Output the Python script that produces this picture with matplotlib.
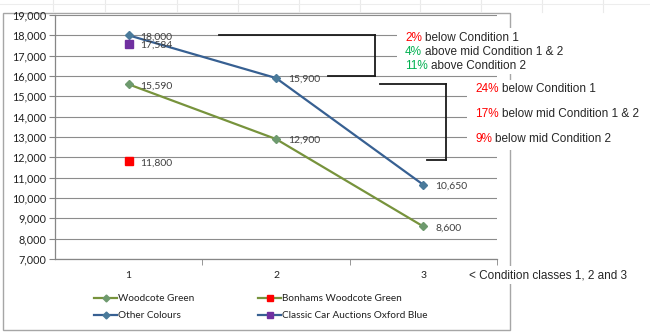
import matplotlib
matplotlib.use("Agg")
import matplotlib.pyplot as plt
from matplotlib.lines import Line2D
from matplotlib.patches import Rectangle

W, H = 650, 334

# condition classes and prices
classes = [1, 2, 3]
woodcote_green = [15590, 12900, 8600]
other_colours = [18000, 15900, 10650]
bonhams_green = [11800]
cca_oxford_blue = [17584]

y_ticks = list(range(7000, 19001, 1000))

notes_top = [("2%", "below Condition 1", "#FF0000"),
             ("4%", "above mid Condition 1 & 2", "#00B050"),
             ("11%", "above Condition 2", "#00B050")]
notes_bottom = [("24%", "below Condition 1", "#FF0000"),
                ("17%", "below mid Condition 1 & 2", "#FF0000"),
                ("9%", "below mid Condition 2", "#FF0000")]

GREEN = "#77933C"
BLUE = "#376092"
CHART_FONT = ["Lato", "DejaVu Sans"]
NOTE_FONT = ["Liberation Sans", "DejaVu Sans"]


def fx(px):
    return px / W


def fy(py):
    return 1 - py / H


fig = plt.figure(figsize=(W / 100, H / 100), dpi=100)
fig.patch.set_facecolor("white")

# faint worksheet cells behind the chart
for cx in [53, 105, 177, 238, 299, 360, 420, 481, 542, 603]:
    fig.add_artist(Line2D([fx(cx), fx(cx)], [fy(0), fy(12)], color="#EAEAEA", lw=0.8))
fig.add_artist(Line2D([0, 1], [fy(4), fy(4)], color="#EDEDED", lw=0.8))

# chart frame
fig.add_artist(Rectangle((fx(3), fy(330)), fx(510) - fx(3), fy(13) - fy(330),
                         transform=fig.transFigure, facecolor="white",
                         edgecolor="#A6A6A6", lw=1.0, zorder=0))

ax = fig.add_axes([fx(55), fy(259), fx(497) - fx(55), fy(15) - fy(259)])
ax.set_facecolor("none")

ax.plot(classes, woodcote_green, color=GREEN, lw=1.6, marker="D", ms=4,
        mfc="#6E9A6E", mec="#6E9A6E", zorder=3)
ax.plot(classes, other_colours, color=BLUE, lw=1.6, marker="D", ms=4,
        mfc="#4A7A9A", mec="#4A7A9A", zorder=3)
ax.plot(classes[:1], bonhams_green, ls="none", marker="s", ms=6,
        mfc="#FF0000", mec="#FF0000", zorder=3)
ax.plot(classes[:1], cca_oxford_blue, ls="none", marker="s", ms=6,
        mfc="#7030A0", mec="#7030A0", zorder=3)

# value labels to the right of each point
series = [(classes, woodcote_green), (classes, other_colours),
          (classes[:1], bonhams_green), (classes[:1], cca_oxford_blue)]
for xs, ys in series:
    for x, y in zip(xs, ys):
        ax.annotate(f"{y:,}", (x, y), xytext=(8.5, -1), textcoords="offset points",
                    ha="left", va="center", fontsize=7.5, color="#404040",
                    family=CHART_FONT, zorder=4)

ax.set_xlim(0.5, 3.5)
ax.set_ylim(7000, 19000)
ax.set_yticks(y_ticks)
ax.set_yticklabels([f"{v:,}" for v in y_ticks], family=CHART_FONT, fontsize=7.8, color="#202020")
ax.set_xticks(classes)
ax.set_xticklabels([str(c) for c in classes], family=CHART_FONT, fontsize=7.5, color="#202020")
ax.set_xticks([1.5, 2.5, 3.5], minor=True)
ax.tick_params(axis="x", which="major", length=0, pad=9)
ax.tick_params(axis="x", which="minor", length=4, color="#868686")
ax.tick_params(axis="y", length=4, color="#868686", pad=2)
ax.grid(axis="y", color="#8C8C8C", lw=0.8)
ax.set_axisbelow(True)
for side in ["top", "right"]:
    ax.spines[side].set_visible(False)
for side in ["left", "bottom"]:
    ax.spines[side].set_color("#868686")
    ax.spines[side].set_linewidth(0.9)

# legend fills column by column
handles = [
    Line2D([], [], color=GREEN, lw=1.6, marker="D", ms=3.5, mfc="#6E9A6E", mec="#6E9A6E"),
    Line2D([], [], color=BLUE, lw=1.6, marker="D", ms=3.5, mfc="#4A7A9A", mec="#4A7A9A"),
    Line2D([], [], color=GREEN, lw=1.6, marker="s", ms=5, mfc="#FF0000", mec="#FF0000"),
    Line2D([], [], color=BLUE, lw=1.6, marker="s", ms=5, mfc="#7030A0", mec="#7030A0"),
]
labels = ["Woodcote Green", "Other Colours",
          "Bonhams Woodcote Green", "Classic Car Auctions Oxford Blue"]
fig.legend(handles, labels, ncol=2, loc="upper left",
           bbox_to_anchor=(fx(89), fy(289)), frameon=False,
           prop={"family": CHART_FONT, "size": 7.2}, handlelength=2.3,
           handletextpad=0.1, columnspacing=6.4, labelspacing=0.85,
           borderpad=0, labelcolor="#202020")

# brackets linking condition classes
bk = dict(color="#1A1A1A", lw=1.3, clip_on=False, zorder=5)
ax.plot([1.613, 2.672], [18000, 18000], **bk)
ax.plot([2.672, 2.672], [18000, 16000], **bk)
ax.plot([2.353, 2.672], [16000, 16000], **bk)
ax.plot([2.706, 3.154], [15600, 15600], **bk)
ax.plot([3.154, 3.154], [15600, 11870], **bk)
ax.plot([3.025, 3.154], [11870, 11870], **bk)

# white note boxes over the chart edge
fig.add_artist(Rectangle((fx(397), fy(74)), 1 - fx(397), fy(28) - fy(74),
                         transform=fig.transFigure, facecolor="white", lw=0, zorder=6))
fig.add_artist(Rectangle((fx(467), fy(150)), 1 - fx(467), fy(80) - fy(150),
                         transform=fig.transFigure, facecolor="white", lw=0, zorder=6))
fig.add_artist(Rectangle((fx(463), fy(284)), 1 - fx(463), fy(266) - fy(284),
                         transform=fig.transFigure, facecolor="white", lw=0, zorder=6))

renderer = fig.canvas.get_renderer()


def note(x_px, y_px, pct, rest, color):
    t = fig.text(fx(x_px), fy(y_px), pct, color=color, fontsize=8.5, family=NOTE_FONT,
                 ha="left", va="center", zorder=7)
    bb = t.get_window_extent(renderer)
    fig.text(fx(bb.x1 + 3), fy(y_px), rest, color="#262626", fontsize=8.5,
             family=NOTE_FONT, ha="left", va="center", zorder=7)


for i, (pct, rest, color) in enumerate(notes_top):
    note(405, 38 + 14 * i, pct, rest, color)
for i, (pct, rest, color) in enumerate(notes_bottom):
    note(475, 89 + 25 * i, pct, rest, color)

fig.text(fx(469), fy(275), "< Condition classes 1, 2 and 3", fontsize=8.5,
         family=NOTE_FONT, color="#262626", ha="left", va="center", zorder=7)

fig.savefig("out.png", dpi=100, facecolor="white")
